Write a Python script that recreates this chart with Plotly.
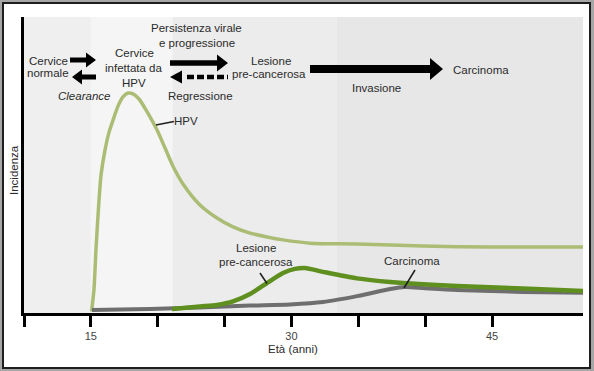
import plotly.graph_objects as go

# ---------------- data ----------------
hpv_age = [15.05, 15.23, 15.38, 15.56, 15.76, 16.06, 16.36, 16.66, 17.03, 17.40, 17.78, 18.15,
           18.60, 19.20, 19.95, 20.54, 21.14, 21.89, 23.16, 24.43, 25.63, 26.90, 28.17, 29.37,
           31.39, 34.90, 39.84, 44.85, 51.80]
hpv_val = [0.5, 7.8, 21.3, 34.8, 46.6, 55.1, 61.1, 65.2, 69.9, 73.0, 74.3, 74.0,
           72.3, 68.0, 61.8, 55.8, 49.6, 43.6, 36.5, 32.1, 29.1, 27.0, 25.7, 24.7,
           23.6, 23.3, 22.6, 22.3, 22.3]

lesion_age = [21.07, 23.16, 24.43, 25.63, 26.90, 28.17, 29.37, 30.26, 31.01, 32.36, 34.90,
              37.37, 42.38, 47.31, 51.80]
lesion_val = [1.35, 2.2, 2.7, 3.9, 6.4, 10.1, 13.5, 14.9, 15.2, 13.9, 11.7,
              10.5, 9.1, 8.3, 7.4]

carc_age = [15.08, 19.42, 23.16, 26.90, 29.89, 32.36, 34.90, 37.37, 38.49, 39.98, 42.38, 47.31, 51.80]
carc_val = [1.0, 1.35, 1.9, 2.5, 2.9, 3.7, 5.7, 8.1, 8.8, 8.4, 7.8, 7.1, 6.8]

x_tickvals = [10, 15, 20, 25, 30, 35, 40, 45]
x_ticktext = ['', '15', '', '', '30', '', '', '45']

phase_edges = [10, 15, 21.1, 33.4, 51.8]
phase_colors = ['#efefef', '#f5f5f5', '#ececec', '#e7e7e7']

# ---------------- geometry helpers (pixel -> paper) ----------------
W, H = 594, 371
L, R, T, B = 24, 583, 17, 313


def px(x):
    return (x - L) / (R - L)


def py(y):
    return (B - y) / (B - T)


FONT = 'Liberation Sans, Arial, sans-serif'
TXT = '#2b2b2b'

fig = go.Figure()

fig.add_trace(go.Scatter(x=hpv_age, y=hpv_val, mode='lines',
                         line=dict(color='#abbd74', width=3.5, shape='spline', smoothing=0.7),
                         hoverinfo='skip', showlegend=False))
fig.add_trace(go.Scatter(x=carc_age, y=carc_val, mode='lines',
                         line=dict(color='#6e6e6e', width=4, shape='spline', smoothing=0.7),
                         hoverinfo='skip', showlegend=False))
fig.add_trace(go.Scatter(x=lesion_age, y=lesion_val, mode='lines',
                         line=dict(color='#5e8f1f', width=4.5, shape='spline', smoothing=0.7),
                         hoverinfo='skip', showlegend=False))

shapes = []
# frame
shapes.append(dict(type='rect', xref='paper', yref='paper',
                   x0=px(3), x1=px(590), y0=py(3), y1=py(368),
                   fillcolor='white', line=dict(color='#1e1e1e', width=2), layer='below'))
# phase bands
for i, c in enumerate(phase_colors):
    shapes.append(dict(type='rect', xref='x', yref='paper',
                       x0=phase_edges[i], x1=phase_edges[i + 1], y0=0, y1=1,
                       fillcolor=c, line=dict(width=0), layer='below'))


def arrow_path(x_tail, x_tip, y, shaft, hlen, hh, with_shaft=True):
    d = 1 if x_tip > x_tail else -1
    xb = x_tip - d * hlen
    if with_shaft:
        pts = [(x_tail, y - shaft / 2), (xb, y - shaft / 2), (xb, y - hh / 2), (x_tip, y),
               (xb, y + hh / 2), (xb, y + shaft / 2), (x_tail, y + shaft / 2)]
    else:
        pts = [(xb, y - hh / 2), (x_tip, y), (xb, y + hh / 2)]
    path = 'M ' + ' L '.join(f'{px(a):.5f},{py(b):.5f}' for a, b in pts) + ' Z'
    return dict(type='path', xref='paper', yref='paper', path=path,
                fillcolor='black', line=dict(width=0), layer='above')


shapes.append(arrow_path(70, 96, 60, 5, 10, 15))     # Cervice normale -> infettata
shapes.append(arrow_path(96, 72, 77, 5, 10, 15))     # Clearance
shapes.append(arrow_path(170, 228, 63, 5.5, 11, 17))  # Persistenza
shapes.append(arrow_path(185, 170, 77, 4.5, 12, 13, with_shaft=False))  # Regressione head
shapes.append(dict(type='line', xref='paper', yref='paper',
                   x0=px(187), x1=px(228), y0=py(77), y1=py(77),
                   line=dict(color='black', width=4.5, dash='7px,3px'), layer='above'))
shapes.append(arrow_path(310, 443, 69, 8, 13, 22))   # Invasione

# pointer lines
for (xa, ya, xb, yb) in [(156, 125, 174, 121.5), (260, 273, 267, 283.5), (415, 270, 404, 288)]:
    shapes.append(dict(type='line', xref='paper', yref='paper',
                       x0=px(xa), y0=py(ya), x1=px(xb), y1=py(yb),
                       line=dict(color='#1e1e1e', width=1.5), layer='above'))

annotations = []


def label(text, x, y, size=11.5, italic=False, angle=0, color=TXT, xanchor='center'):
    annotations.append(dict(text=text, x=px(x), y=py(y), xref='paper', yref='paper',
                            showarrow=False, xanchor=xanchor, yanchor='middle', textangle=angle,
                            font=dict(family=FONT, size=size, color=color,
                                      style='italic' if italic else 'normal')))


label('Cervice', 48, 61)
label('normale', 47.5, 73)
label('Clearance', 84, 96, italic=True)
label('Cervice', 134, 53)
label('infettata da', 134, 68)
label('HPV', 134, 83)
label('Persistenza virale', 197, 28)
label('e progressione', 197, 43)
label('Regressione', 200, 96)
label('Lesione', 271, 61)
label('pre-cancerosa', 269, 74)
label('Invasione', 376, 88)
label('Carcinoma', 481, 70)
label('HPV', 186, 120.5)
label('Lesione', 256, 247.5)
label('pre-cancerosa', 256, 261.5)
label('Carcinoma', 412, 261)
label('Incidenza', 14, 170, angle=-90)
label('Età (anni)', 293, 349)

fig.update_layout(
    width=W, height=H,
    margin=dict(l=L, r=W - R, t=T, b=H - B, pad=0),
    paper_bgcolor='#a6a6a6',
    plot_bgcolor='rgba(0,0,0,0)',
    showlegend=False,
    shapes=shapes,
    annotations=annotations,
    xaxis=dict(range=[10, 51.8], showgrid=False, zeroline=False, showline=True,
               linecolor='black', linewidth=3, ticks='outside', ticklen=11, tickwidth=2.5,
               tickcolor='black', tickvals=x_tickvals, ticktext=x_ticktext,
               tickfont=dict(family=FONT, size=11, color='#444')),
    yaxis=dict(range=[0, 100], showgrid=False, zeroline=False, showline=True,
               linecolor='black', linewidth=3, showticklabels=False, ticks=''),
)

fig.write_html('out.html',
               config={'displayModeBar': False},
               post_script="document.body.style.margin='0';document.body.style.padding='0';"
                           "document.body.style.overflow='hidden';")
